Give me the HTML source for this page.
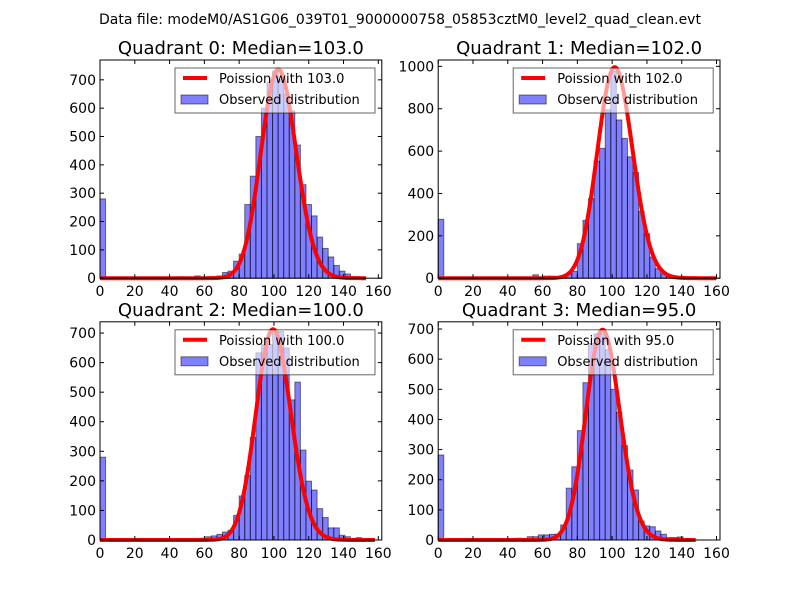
<!DOCTYPE html>
<html><head><meta charset="utf-8"><style>
body{margin:0;background:#fff;}
svg text{font-family:"DejaVu Sans","Liberation Sans",sans-serif;}
</style></head><body>
<svg id="fig" width="800" height="600" xmlns="http://www.w3.org/2000/svg">
<rect width="800" height="600" fill="#fff"/>
<text x="400" y="24" font-size="14" text-anchor="middle">Data file: modeM0/AS1G06_039T01_9000000758_05853cztM0_level2_quad_clean.evt</text>
</svg>
<script>
const quadrantNames = ["Quadrant 0","Quadrant 1","Quadrant 2","Quadrant 3"];
const medians = [103.0, 102.0, 100.0, 95.0];
const binWidth = 3.2;
const counts0 = [280,0,0,0,0,0,0,0,0,0,0,0,0,0,5,0,0,8,0,0,5,8,20,25,60,85,260,360,500,600,690,730,700,650,590,470,330,260,220,145,105,75,45,25,15,5,3];
const counts1 = [278,0,0,0,0,0,0,0,0,0,0,0,0,0,5,0,0,16,0,10,10,0,8,20,32,163,273,376,553,613,795,976,747,660,573,499,316,210,100,45,20,10,5,4];
const counts2 = [280,0,0,0,0,0,0,0,0,0,0,0,0,0,3,3,3,0,6,11,14,19,27,33,83,149,218,347,633,661,661,705,705,650,474,534,304,199,169,106,76,41,41,16,11,3,8];
const counts3 = [282,0,0,0,0,0,0,0,0,0,0,0,4,0,6,0,11,11,17,17,19,19,50,172,243,363,522,652,684,684,631,500,424,313,232,166,63,47,44,30,19,8,8,10];
const allCounts = [counts0, counts1, counts2, counts3];
const curvePeaks = [736, 995, 712, 697];
const curveEnds = [153, 160, 158, 148];
const yMax = [770, 1030, 738, 724];
const xMax = 162;
const yTickStep = [100, 200, 100, 100];
const xTicks = [0,20,40,60,80,100,120,140,160];

const NS = "http://www.w3.org/2000/svg";
const svg = document.getElementById('fig');
function mk(tag, attrs, parent){const e=document.createElementNS(NS,tag);for(const k in attrs)e.setAttribute(k,attrs[k]);(parent||svg).appendChild(e);return e;}
function lgamma(z){
  let s=0; while(z<8){s-=Math.log(z);z+=1;}
  return s+(z-0.5)*Math.log(z)-z+0.5*Math.log(2*Math.PI)+1/(12*z)-1/(360*z*z*z);
}
function logPois(x,mu){return x*Math.log(mu)-mu-lgamma(x+1);}

const boxes = [[100,60],[438.2,60],[100,321.8],[438.2,321.8]];
const W=281.8, H=218.2;
for(let q=0;q<4;q++){
  const [L,T]=boxes[q];
  const g=mk('g',{});
  
  
  const xs=v=>L+v/xMax*W;
  const ys=v=>T+H-v/yMax[q]*H;
  const counts=allCounts[q];
  for(let i=0;i<counts.length;i++){
    if(counts[i]<=0)continue;
    const r=mk('rect',{x:xs(i*binWidth),y:ys(counts[i]),width:xs((i+1)*binWidth)-xs(i*binWidth),height:ys(0)-ys(counts[i]),fill:'#0000ff','fill-opacity':0.5,stroke:'#000','stroke-opacity':0.5,'stroke-width':1},g);
    
    
  }
  const mu=medians[q];let d='';
  for(let x=0;x<=curveEnds[q];x+=0.5){
    const y=curvePeaks[q]*Math.exp(logPois(x,mu)-logPois(mu,mu));
    d+=(x===0?'M':'L')+xs(x).toFixed(2)+','+ys(y).toFixed(2);
  }
  const p=mk('path',{d:d,fill:'none',stroke:'#ff0000','stroke-width':4,'stroke-linejoin':'round'},g);
  
  
  const f=mk('rect',{x:L,y:T,width:W,height:H,fill:'none',stroke:'#000','stroke-width':1},g);
  
  
  for(const t of xTicks){
    const X=xs(t);
    mk('line',{x1:X,y1:T+H,x2:X,y2:T+H-4,stroke:'#000'},g);
    mk('line',{x1:X,y1:T,x2:X,y2:T+4,stroke:'#000'},g);
    const tl=mk('text',{x:X,y:T+H+18,'font-size':14,'text-anchor':'middle'},g);
    tl.textContent=t;
    
    
  }
  for(let t=0;t<=yMax[q];t+=yTickStep[q]){
    const Y=ys(t);
    mk('line',{x1:L,y1:Y,x2:L+4,y2:Y,stroke:'#000'},g);
    mk('line',{x1:L+W,y1:Y,x2:L+W-4,y2:Y,stroke:'#000'},g);
    const tl=mk('text',{x:L-4,y:Y+5,'font-size':14,'text-anchor':'end'},g);
    tl.textContent=t;
    
    
  }
  const ti=mk('text',{x:L+W/2,y:T-6,'font-size':18,'text-anchor':'middle'},g);
  ti.textContent=quadrantNames[q]+': Median='+medians[q].toFixed(1);
  
  
  const lg=mk('g',{},g);
  
  
  const lx=L+75, ly=T+8;
  mk('rect',{x:lx,y:ly,width:200,height:45,fill:'#fff','fill-opacity':0.6,stroke:'#000','stroke-opacity':0.6,'stroke-width':1},lg);
  mk('line',{x1:lx+8,y1:ly+10,x2:lx+32,y2:ly+10,stroke:'#ff0000','stroke-width':4},lg);
  const t1=mk('text',{x:lx+44,y:ly+15,'font-size':13},lg);
  t1.textContent='Poission with '+medians[q].toFixed(1);
  
  
  mk('rect',{x:lx+6,y:ly+27,width:27,height:9,fill:'#0000ff','fill-opacity':0.5,stroke:'#000','stroke-opacity':0.5},lg);
  const t2=mk('text',{x:lx+44,y:ly+36,'font-size':13},lg);
  t2.textContent='Observed distribution';
  
  
}
</script>
</body></html>
